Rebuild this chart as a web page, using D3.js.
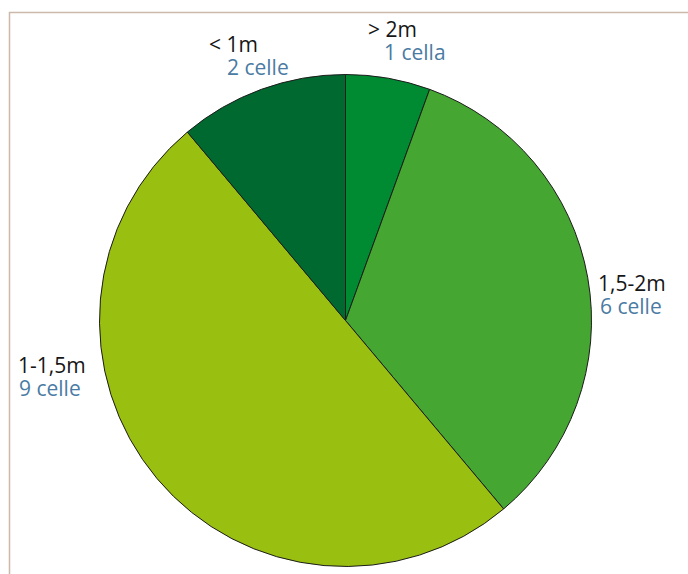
<!DOCTYPE html>
<html>
<head>
<meta charset="utf-8">
<script src="https://cdn.jsdelivr.net/npm/d3@7"></script>
<style>
  html, body { margin: 0; padding: 0; background: #fff; }
  svg { display: block; }
</style>
</head>
<body>
<svg id="chart" width="688" height="574"></svg>
<script>
// Cell counts per depth class, clockwise from 12 o'clock
const categories = ["> 2m", "1,5-2m", "1-1,5m", "< 1m"];
const counts = [1, 6, 9, 2];
const colors = ["#008b33", "#45a631", "#99bf10", "#00692f"];

const unitLabel = n => n === 1 ? n + " cella" : n + " celle";

// Label placement: [x, y of first baseline, offset of second line]
const labelPos = [
  { x: 368, y: 37, dx2: 16 },
  { x: 598, y: 291, dx2: 2 },
  { x: 18, y: 373, dx2: 1 },
  { x: 209, y: 52, dx2: 18 }
];

const svg = d3.select("#chart");
const W = 688, H = 574;

// frame
svg.append("path")
  .attr("d", `M9.5,${H} V12.5 H${W}`)
  .attr("fill", "none")
  .attr("stroke", "#cdb9aa")
  .attr("stroke-width", 1.5);

const cx = 345.5, cy = 320.5, r = 246;

const pie = d3.pie().sort(null).value(d => d)(counts);
const arc = d3.arc().innerRadius(0).outerRadius(r);

const g = svg.append("g").attr("transform", `translate(${cx},${cy})`);
g.selectAll("path.slice")
  .data(pie)
  .join("path")
  .attr("class", "slice")
  .attr("d", arc)
  .attr("fill", (d, i) => colors[i])
  .attr("stroke", "#1c1c1c")
  .attr("stroke-width", 1)
  .attr("stroke-linejoin", "round");

const labels = svg.append("g")
  .attr("font-family", "'Open Sans', 'DejaVu Sans', sans-serif")
  .attr("font-size", 21);

categories.forEach((c, i) => {
  const p = labelPos[i];
  labels.append("text")
    .attr("x", p.x).attr("y", p.y)
    .attr("fill", "#161616")
    .text(c);
  labels.append("text")
    .attr("x", p.x + p.dx2).attr("y", p.y + 23)
    .attr("fill", "#4a7ba3")
    .text(unitLabel(counts[i]));
});
</script>
</body>
</html>
